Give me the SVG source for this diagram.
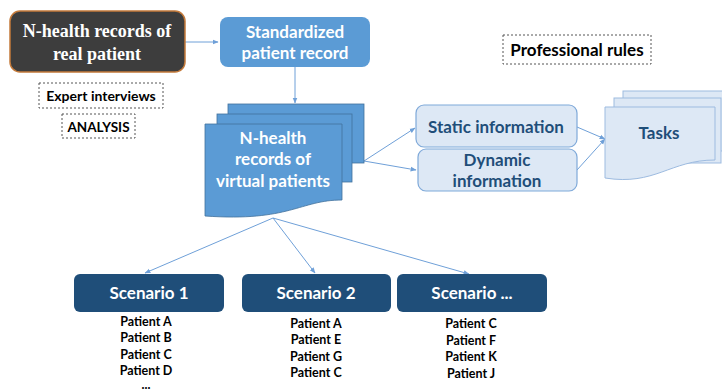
<svg xmlns="http://www.w3.org/2000/svg" width="722" height="392" viewBox="0 0 722 392">
<defs>
<style>
.s{font-family:Lato,"Open Sans","Liberation Sans",sans-serif;font-weight:bold;text-anchor:middle}
.w{fill:#ffffff}
.db{fill:#1f4e79}
.k{fill:#000000}
.dash{fill:#ffffff;stroke:#555;stroke-width:1;stroke-dasharray:2,2}
.blue{fill:#5b9bd5;stroke:#41719c;stroke-width:0.8}
.lt{fill:#dde8f5;stroke:#7fa9d9;stroke-width:1.2}
.lt2{fill:#dde8f5;stroke:#9dbbe0;stroke-width:1}
.c{stroke:#6fa0d8;stroke-width:1;fill:none;marker-end:url(#ah)}
</style>
<marker id="ah" viewBox="0 0 10 10" refX="9" refY="5" markerWidth="6" markerHeight="6" orient="auto-start-reverse" markerUnits="userSpaceOnUse">
<path d="M0,1 L10,5 L0,9 z" fill="#6fa0d8"/>
</marker>
</defs>
<rect width="722" height="392" fill="#ffffff"/>

<g id="connectors">
<line class="c" x1="185" y1="42" x2="218" y2="42"/>
<line class="c" x1="295" y1="67" x2="295" y2="103"/>
<line class="c" x1="364" y1="161" x2="415" y2="128"/>
<line class="c" x1="364" y1="161" x2="416" y2="170"/>
<line class="c" x1="577" y1="127" x2="605" y2="139"/>
<line class="c" x1="577" y1="170" x2="605" y2="139"/>
<line class="c" x1="273" y1="218" x2="145" y2="273"/>
<line class="c" x1="273" y1="218" x2="315" y2="273"/>
<line class="c" x1="273" y1="218" x2="469" y2="274"/>
</g>

<g id="real-records">
<rect x="10" y="11" width="175" height="61" rx="10" fill="#3d3d3d" stroke="#c47a3a" stroke-width="1.5"/>
<text x="97" y="37" font-family="'Liberation Serif',serif" font-size="18" fill="#ffffff" text-anchor="middle" font-weight="bold">N-health records of</text>
<text x="97" y="60" font-family="'Liberation Serif',serif" font-size="18" fill="#ffffff" text-anchor="middle" font-weight="bold">real patient</text>
</g>

<g id="standardized">
<rect x="220" y="17" width="150" height="50" rx="8" fill="#5b9bd5"/>
<text class="s w" x="295" y="38" font-size="17">Standardized</text>
<text class="s w" x="295" y="59" font-size="17">patient record</text>
</g>

<g id="expert">
<rect class="dash" x="39" y="83" width="124" height="25"/>
<text class="s k" x="101" y="101" font-size="14">Expert interviews</text>
</g>

<g id="analysis">
<rect class="dash" x="62" y="114" width="73" height="24"/>
<text class="s k" x="98.5" y="132" font-size="13.5">ANALYSIS</text>
</g>

<g id="professional">
<rect class="dash" x="503" y="35" width="148" height="29"/>
<text class="s k" x="577" y="56" font-size="17">Professional rules</text>
</g>

<g id="virtual-records">
<rect class="blue" x="228" y="104" width="136" height="59"/>
<rect class="blue" x="217" y="114" width="135" height="68"/>
<path class="blue" d="M205,124 L342,124 L342,200 C300,200 290,222 205,216 Z"/>
<text class="s w" x="273" y="144" font-size="17">N-health</text>
<text class="s w" x="273" y="165" font-size="17">records of</text>
<text class="s w" x="273" y="187" font-size="17">virtual patients</text>
</g>

<g id="static">
<rect class="lt" x="416" y="105" width="161" height="42" rx="8"/>
<text class="s db" x="496" y="133" font-size="17">Static information</text>
</g>

<g id="dynamic">
<rect class="lt" x="418" y="149" width="159" height="42" rx="8"/>
<text class="s db" x="497" y="166" font-size="17">Dynamic</text>
<text class="s db" x="497" y="187" font-size="17">information</text>
</g>

<g id="tasks">
<rect class="lt2" x="623" y="91" width="104" height="60"/>
<rect class="lt2" x="614" y="98" width="107" height="65"/>
<path class="lt2" d="M605,107 L715,107 L715,160 C670,160 655,186 605,178 Z"/>
<text class="s db" x="659" y="139" font-size="17">Tasks</text>
</g>

<g id="scenario1">
<rect x="74" y="274" width="150" height="38" rx="6" fill="#1f4e79"/>
<text class="s w" x="149" y="299" font-size="17">Scenario 1</text>
<text class="s k" x="146" y="326" font-size="12.5">Patient A</text>
<text class="s k" x="146" y="342" font-size="12.5">Patient B</text>
<text class="s k" x="146" y="359" font-size="12.5">Patient C</text>
<text class="s k" x="146" y="375" font-size="12.5">Patient D</text>
<text class="s k" x="146" y="389" font-size="12.5">...</text>
</g>

<g id="scenario2">
<rect x="242" y="274" width="149" height="38" rx="6" fill="#1f4e79"/>
<text class="s w" x="316" y="299" font-size="17">Scenario 2</text>
<text class="s k" x="316" y="328" font-size="12.5">Patient A</text>
<text class="s k" x="316" y="344" font-size="12.5">Patient E</text>
<text class="s k" x="316" y="361" font-size="12.5">Patient G</text>
<text class="s k" x="316" y="377" font-size="12.5">Patient C</text>
</g>

<g id="scenario3">
<rect x="397" y="274" width="150" height="38" rx="6" fill="#1f4e79"/>
<text class="s w" x="472" y="299" font-size="17">Scenario ...</text>
<text class="s k" x="471" y="328" font-size="12.5">Patient C</text>
<text class="s k" x="471" y="345" font-size="12.5">Patient F</text>
<text class="s k" x="471" y="361" font-size="12.5">Patient K</text>
<text class="s k" x="471" y="378" font-size="12.5">Patient J</text>
</g>
</svg>
